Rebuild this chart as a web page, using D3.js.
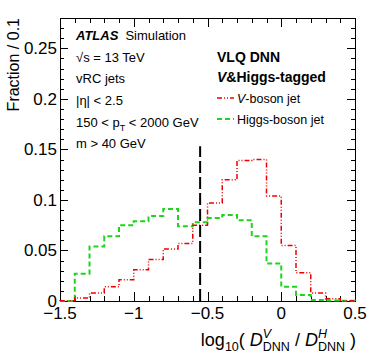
<!DOCTYPE html>
<html>
<head>
<meta charset="utf-8">
<script src="https://cdn.jsdelivr.net/npm/d3@7"></script>
<style>
  body { margin: 0; background: #fff; }
  svg text { font-family: "Liberation Sans", Arial, sans-serif; }
</style>
</head>
<body>
<div id="chart"></div>
<script>
// bin edges of log10(D^V/D^H), width 0.1
const binEdges = [-1.5, -1.4, -1.3, -1.2, -1.1, -1.0, -0.9, -0.8, -0.7, -0.6, -0.5,
                  -0.4, -0.3, -0.2, -0.1, 0.0, 0.1, 0.2, 0.3, 0.4, 0.5]
const vBoson = [0.0003, 0.003, 0.008, 0.014, 0.021, 0.031, 0.041, 0.0515, 0.057, 0.075,
                0.097, 0.120, 0.139, 0.140, 0.104, 0.055, 0.028, 0.008, 0.0023, 0.0003]
const higgsBoson = [0, 0.027, 0.054, 0.064, 0.075, 0.079, 0.084, 0.091, 0.074, 0.078,
                    0.082, 0.085, 0.080, 0.064, 0.037, 0.014, 0.006, 0.001, 0.0005, 0.0002]
const cutValue = -0.55
const cutTop = 0.153
const xTicks = [-1.5, -1, -0.5, 0, 0.5]
const xTickLabels = ["\u22121.5", "\u22121", "\u22120.5", "0", "0.5"]
const yTicks = [0, 0.05, 0.1, 0.15, 0.2, 0.25]
const yTickLabels = ["0", "0.05", "0.1", "0.15", "0.2", "0.25"]
const infoLines = ["vRC jets", "|\u03b7| < 2.5"]

const width = 374
const height = 359
const margin = {top: 18, right: 19, bottom: 58, left: 60}

const svg = d3.select("#chart")
  .append("svg")
    .attr("width", width)
    .attr("height", height)

const x = d3.scaleLinear()
  .domain([-1.5, 0.5])
  .range([margin.left, width - margin.right])

const y = d3.scaleLinear()
  .domain([0, 0.28])
  .range([height - margin.bottom, margin.top])

const x0 = margin.left, x1 = width - margin.right
const y0 = height - margin.bottom, y1 = margin.top

// minor + major ticks on all four sides (ROOT style)
const xMinor = d3.range(-1.5, 0.501, 0.1)
const yMinor = d3.range(0, 0.2801, 0.01)
const ticks = svg.append("g").attr("stroke", "#000").attr("stroke-width", 1)
xMinor.forEach(v => {
  const major = xTicks.some(t => Math.abs(t - v) < 1e-6)
  const len = major ? 9 : 5
  const px = Math.round(x(v)) + 0.5
  ticks.append("line").attr("x1", px).attr("x2", px).attr("y1", y0).attr("y2", y0 - len)
  ticks.append("line").attr("x1", px).attr("x2", px).attr("y1", y1).attr("y2", y1 + len)
})
yMinor.forEach(v => {
  const major = yTicks.some(t => Math.abs(t - v) < 1e-6)
  const len = major ? 8 : 4
  const py = Math.round(y(v)) + 0.5
  ticks.append("line").attr("x1", x0).attr("x2", x0 + len).attr("y1", py).attr("y2", py)
  ticks.append("line").attr("x1", x1).attr("x2", x1 - len).attr("y1", py).attr("y2", py)
})

// frame
svg.append("rect")
  .attr("x", x0 + 0.5).attr("y", y1 + 0.5)
  .attr("width", x1 - x0).attr("height", y0 - y1)
  .attr("fill", "none").attr("stroke", "#000")

// tick labels
svg.append("g").selectAll("text").data(xTicks).join("text")
  .attr("x", d => x(d))
  .attr("y", y0 + 18)
  .attr("text-anchor", "middle")
  .attr("font-size", 17)
  .text((d, i) => xTickLabels[i])

svg.append("g").selectAll("text").data(yTicks).join("text")
  .attr("x", x0 - 3)
  .attr("y", d => y(d) + 6)
  .attr("text-anchor", "end")
  .attr("font-size", 17)
  .text((d, i) => yTickLabels[i])

// y title
svg.append("text")
  .attr("transform", `translate(19, ${y1}) rotate(-90)`)
  .attr("text-anchor", "end")
  .attr("font-size", 16)
  .text("Fraction / 0.1")

// histograms
function stepPath(values){
  let p = `M${x(binEdges[0])},${y(0)}`
  values.forEach((v, i) => {
    p += `V${y(v)}H${x(binEdges[i + 1])}`
  })
  return p + `V${y(0)}`
}

svg.append("path")
  .attr("d", stepPath(higgsBoson))
  .attr("fill", "none")
  .attr("stroke", "#1ed51e")
  .attr("stroke-width", 2)
  .attr("stroke-dasharray", "5,3")

svg.append("path")
  .attr("d", stepPath(vBoson))
  .attr("fill", "none")
  .attr("stroke", "#ee0000")
  .attr("stroke-width", 1.5)
  .attr("stroke-dasharray", "5,2,1,2,1,2")

// cut line
svg.append("line")
  .attr("x1", x(cutValue)).attr("x2", x(cutValue))
  .attr("y1", y(0)).attr("y2", y(cutTop))
  .attr("stroke", "#000")
  .attr("stroke-width", 2)
  .attr("stroke-dasharray", "12,4")

// ATLAS label block
const info = svg.append("g").attr("font-size", 13)
const atlas = info.append("text").attr("x", 76).attr("y", 40)
atlas.append("tspan").attr("font-weight", "bold").attr("font-style", "italic").text("ATLAS")
atlas.append("tspan").attr("dx", 7).text("Simulation")
info.append("text").attr("x", 76).attr("y", 62).text("\u221as = 13 TeV")
infoLines.forEach((t, i) => {
  info.append("text").attr("x", 76).attr("y", 83 + i * 22).text(t)
})
const pt = info.append("text").attr("x", 76).attr("y", 127)
pt.append("tspan").text("150 < p")
pt.append("tspan").attr("dy", 4).attr("font-size", 9).text("T")
pt.append("tspan").attr("dy", -4).text(" < 2000 GeV")
info.append("text").attr("x", 76).attr("y", 148).text("m > 40 GeV")

// legend
const legend = svg.append("g")
legend.append("text").attr("x", 217).attr("y", 62)
  .attr("font-size", 14).attr("font-weight", "bold").text("VLQ DNN")
const tag = legend.append("text").attr("x", 217).attr("y", 82)
  .attr("font-size", 14).attr("font-weight", "bold")
tag.append("tspan").attr("font-style", "italic").text("V")
tag.append("tspan").text("&Higgs-tagged")

const entries = [
  {label: ["V", "-boson jet"], color: "#ee0000", dash: "5,2,1,2,1,2", w: 1.5},
  {label: ["", "Higgs-boson jet"], color: "#1ed51e", dash: "5,3", w: 2}
]
entries.forEach((e, i) => {
  const cy = 98 + i * 21
  legend.append("line")
    .attr("x1", 217).attr("x2", 234).attr("y1", cy).attr("y2", cy)
    .attr("stroke", e.color).attr("stroke-width", e.w).attr("stroke-dasharray", e.dash)
  const t = legend.append("text").attr("x", 237).attr("y", cy + 4.5).attr("font-size", 12.5)
  if (e.label[0]) t.append("tspan").attr("font-style", "italic").text(e.label[0])
  t.append("tspan").text(e.label[1])
})

// x title: log10( D^V_DNN / D^H_DNN ), built piece by piece and right aligned
const title = svg.append("g")
const pieces = [
  {t: "log", s: 18, dy: 0},
  {t: "10", s: 12.5, dy: 5},
  {t: "( ", s: 18, dy: 0},
  {t: "D", s: 18, dy: 0, it: true},
  {stack: [{t: "V", s: 12.5, dy: -8, it: true}, {t: "DNN", s: 12.5, dy: 5}]},
  {t: " / ", s: 18, dy: 0},
  {t: "D", s: 18, dy: 0, it: true},
  {stack: [{t: "H", s: 12.5, dy: -8, it: true}, {t: "DNN", s: 12.5, dy: 5}]},
  {t: " )", s: 18, dy: 0}
]
let cx = 0
function put(p, at){
  const el = title.append("text")
    .attr("x", at).attr("y", p.dy)
    .attr("font-size", p.s)
    .attr("font-style", p.it ? "italic" : null)
    .style("white-space", "pre")
    .text(p.t)
  return el.node().getComputedTextLength()
}
pieces.forEach(p => {
  if (p.stack) {
    const w = p.stack.map(s => put(s, cx))
    cx += d3.max(w)
  } else {
    cx += put(p, cx)
  }
})
title.attr("transform", `translate(${356 - cx}, 346)`)
</script>
</body>
</html>
